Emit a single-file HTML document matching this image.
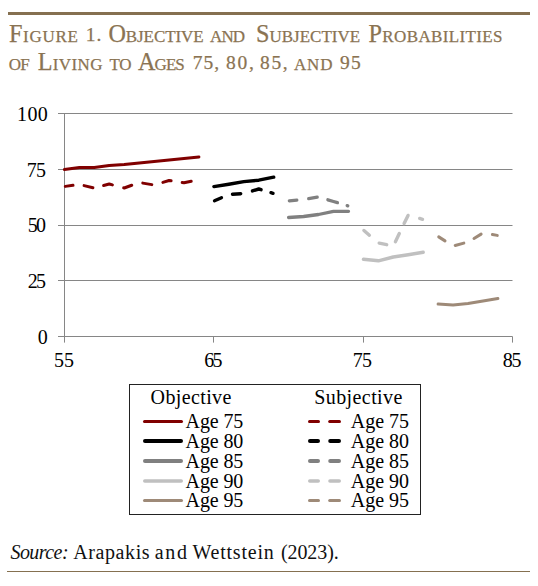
<!DOCTYPE html>
<html><head><meta charset="utf-8"><style>
html,body{margin:0;padding:0;background:#fff;}
body{width:538px;height:586px;position:relative;overflow:hidden;font-family:"Liberation Serif",serif;}
.rule{position:absolute;background:#857050;}
span{position:absolute;line-height:1;white-space:nowrap;}
svg{position:absolute;left:0;top:0;}
</style></head><body>
<div class="rule" style="left:8px;top:12px;width:522px;height:3px"></div>
<svg width="538" height="586" viewBox="0 0 538 586">
<line x1="58" y1="113.5" x2="512.5" y2="113.5" stroke="#868686" stroke-width="1"/>
<line x1="58" y1="169.5" x2="512.5" y2="169.5" stroke="#868686" stroke-width="1"/>
<line x1="58" y1="225.5" x2="512.5" y2="225.5" stroke="#868686" stroke-width="1"/>
<line x1="58" y1="280.5" x2="512.5" y2="280.5" stroke="#868686" stroke-width="1"/>
<line x1="58" y1="336.5" x2="512.5" y2="336.5" stroke="#868686" stroke-width="1"/>
<line x1="64.5" y1="113" x2="64.5" y2="337" stroke="#868686" stroke-width="1"/>
<line x1="64.5" y1="336.5" x2="64.5" y2="342.6" stroke="#868686" stroke-width="1"/>
<line x1="213.5" y1="336.5" x2="213.5" y2="342.6" stroke="#868686" stroke-width="1"/>
<line x1="363.5" y1="336.5" x2="363.5" y2="342.6" stroke="#868686" stroke-width="1"/>
<line x1="512.5" y1="336.5" x2="512.5" y2="342.6" stroke="#868686" stroke-width="1"/>
<polyline points="64.4,169.5 79.4,167.6 94.3,167.6 109.2,165.4 124.2,164.6 139.2,162.9 154.1,161.4 169.1,159.9 184.0,158.4 198.9,156.9" stroke="#800000" stroke-width="3" fill="none" stroke-linejoin="round" stroke-linecap="round"/>
<polyline points="65.29,186.38 73.01,185.35" stroke="#800000" stroke-width="3" fill="none" stroke-linejoin="round" stroke-linecap="round"/>
<polyline points="84.08,185.61 92.92,187.68" stroke="#800000" stroke-width="3" fill="none" stroke-linejoin="round" stroke-linecap="round"/>
<polyline points="103.58,185.52 109.25,184.00 112.42,184.85" stroke="#800000" stroke-width="3" fill="none" stroke-linejoin="round" stroke-linecap="round"/>
<polyline points="123.68,187.86 124.20,188.00 131.74,185.22" stroke="#800000" stroke-width="3" fill="none" stroke-linejoin="round" stroke-linecap="round"/>
<polyline points="142.79,183.11 151.81,184.62" stroke="#800000" stroke-width="3" fill="none" stroke-linejoin="round" stroke-linecap="round"/>
<polyline points="162.87,182.36 169.05,180.50 171.11,180.82" stroke="#800000" stroke-width="3" fill="none" stroke-linejoin="round" stroke-linecap="round"/>
<polyline points="182.19,182.52 184.00,182.80 191.22,181.21" stroke="#800000" stroke-width="3" fill="none" stroke-linejoin="round" stroke-linecap="round"/>
<polyline points="213.9,186.6 228.8,184.2 243.8,181.6 258.8,180.2 273.7,177.2" stroke="#000000" stroke-width="3.4" fill="none" stroke-linejoin="round" stroke-linecap="round"/>
<polyline points="214.54,200.72 221.46,197.71" stroke="#000000" stroke-width="3.4" fill="none" stroke-linejoin="round" stroke-linecap="round"/>
<polyline points="232.50,194.26 240.70,193.71" stroke="#000000" stroke-width="3.4" fill="none" stroke-linejoin="round" stroke-linecap="round"/>
<polyline points="252.47,190.89 258.75,189.00 261.03,189.69" stroke="#000000" stroke-width="3.4" fill="none" stroke-linejoin="round" stroke-linecap="round"/>
<polyline points="270.97,192.68 273.03,193.30" stroke="#000000" stroke-width="3.4" fill="none" stroke-linejoin="round" stroke-linecap="round"/>
<polyline points="288.6,217.5 303.6,216.5 318.5,214.5 333.5,211.3 348.5,211.3" stroke="#808080" stroke-width="3.3" fill="none" stroke-linejoin="round" stroke-linecap="round"/>
<polyline points="289.35,200.93 296.80,200.18" stroke="#808080" stroke-width="3.3" fill="none" stroke-linejoin="round" stroke-linecap="round"/>
<polyline points="308.69,198.65 317.21,197.22" stroke="#808080" stroke-width="3.3" fill="none" stroke-linejoin="round" stroke-linecap="round"/>
<polyline points="327.87,199.81 333.50,201.50 337.43,202.68" stroke="#808080" stroke-width="3.3" fill="none" stroke-linejoin="round" stroke-linecap="round"/>
<polyline points="347.17,205.61 347.78,205.80" stroke="#808080" stroke-width="3.3" fill="none" stroke-linejoin="round" stroke-linecap="round"/>
<polyline points="363.4,259.3 378.4,260.8 393.3,257.0 408.2,254.8 423.2,252.3" stroke="#c0c0c0" stroke-width="3.4" fill="none" stroke-linejoin="round" stroke-linecap="round"/>
<polyline points="363.93,230.46 369.37,235.19" stroke="#c0c0c0" stroke-width="3.4" fill="none" stroke-linejoin="round" stroke-linecap="round"/>
<polyline points="379.19,243.17 386.71,244.68" stroke="#c0c0c0" stroke-width="3.4" fill="none" stroke-linejoin="round" stroke-linecap="round"/>
<polyline points="395.40,241.64 399.30,233.57" stroke="#c0c0c0" stroke-width="3.4" fill="none" stroke-linejoin="round" stroke-linecap="round"/>
<polyline points="404.10,223.60 408.06,215.40" stroke="#c0c0c0" stroke-width="3.4" fill="none" stroke-linejoin="round" stroke-linecap="round"/>
<polyline points="419.67,218.44 422.53,219.30" stroke="#c0c0c0" stroke-width="3.4" fill="none" stroke-linejoin="round" stroke-linecap="round"/>
<polyline points="438.1,304.1 453.1,305.1 468.0,303.6 483.0,301.1 497.9,298.4" stroke="#9e8a78" stroke-width="3" fill="none" stroke-linejoin="round" stroke-linecap="round"/>
<polyline points="438.74,236.88 445.01,240.86" stroke="#9e8a78" stroke-width="3" fill="none" stroke-linejoin="round" stroke-linecap="round"/>
<polyline points="455.18,245.44 463.82,243.13" stroke="#9e8a78" stroke-width="3" fill="none" stroke-linejoin="round" stroke-linecap="round"/>
<polyline points="474.00,238.42 481.10,234.14" stroke="#9e8a78" stroke-width="3" fill="none" stroke-linejoin="round" stroke-linecap="round"/>
<polyline points="492.39,234.57 497.26,235.38" stroke="#9e8a78" stroke-width="3" fill="none" stroke-linejoin="round" stroke-linecap="round"/>
<rect x="129.5" y="384.5" width="291" height="130" fill="none" stroke="#222" stroke-width="1"/>
<line x1="144.50" y1="421.4" x2="181.50" y2="421.4" stroke="#800000" stroke-width="3" stroke-linecap="round"/>
<line x1="309.50" y1="421.4" x2="318.50" y2="421.4" stroke="#800000" stroke-width="3" stroke-linecap="round"/>
<line x1="329.70" y1="421.4" x2="339.50" y2="421.4" stroke="#800000" stroke-width="3" stroke-linecap="round"/>
<line x1="145.00" y1="441.1" x2="181.00" y2="441.1" stroke="#000000" stroke-width="4" stroke-linecap="round"/>
<line x1="310.00" y1="441.1" x2="318.00" y2="441.1" stroke="#000000" stroke-width="4" stroke-linecap="round"/>
<line x1="330.20" y1="441.1" x2="339.00" y2="441.1" stroke="#000000" stroke-width="4" stroke-linecap="round"/>
<line x1="145.00" y1="461.0" x2="181.00" y2="461.0" stroke="#808080" stroke-width="4" stroke-linecap="round"/>
<line x1="310.00" y1="461.0" x2="318.00" y2="461.0" stroke="#808080" stroke-width="4" stroke-linecap="round"/>
<line x1="330.20" y1="461.0" x2="339.00" y2="461.0" stroke="#808080" stroke-width="4" stroke-linecap="round"/>
<line x1="144.75" y1="480.9" x2="181.25" y2="480.9" stroke="#c0c0c0" stroke-width="3.5" stroke-linecap="round"/>
<line x1="309.75" y1="480.9" x2="318.25" y2="480.9" stroke="#c0c0c0" stroke-width="3.5" stroke-linecap="round"/>
<line x1="329.95" y1="480.9" x2="339.25" y2="480.9" stroke="#c0c0c0" stroke-width="3.5" stroke-linecap="round"/>
<line x1="144.50" y1="500.5" x2="181.50" y2="500.5" stroke="#9e8a78" stroke-width="3" stroke-linecap="round"/>
<line x1="309.50" y1="500.5" x2="318.50" y2="500.5" stroke="#9e8a78" stroke-width="3" stroke-linecap="round"/>
<line x1="329.70" y1="500.5" x2="339.50" y2="500.5" stroke="#9e8a78" stroke-width="3" stroke-linecap="round"/>
</svg>
<span id="w0" style="left:8.90px;top:21.60px;font-size:24px;letter-spacing:0.720px;color:#8a7352;font-variant:small-caps;-webkit-text-stroke:0.25px #8a7352;"><b style="font-weight:normal;line-height:0;font-size:24.2px">F</b>igure</span>
<span id="w1" style="left:85.70px;top:25.37px;font-size:19.5px;letter-spacing:1.000px;color:#8a7352;-webkit-text-stroke:0.25px #8a7352;">1.</span>
<span id="w2" style="left:108.40px;top:21.60px;font-size:24px;letter-spacing:-0.075px;color:#8a7352;font-variant:small-caps;-webkit-text-stroke:0.25px #8a7352;"><b style="font-weight:normal;line-height:0;font-size:24.2px">O</b>bjective</span>
<span id="w3" style="left:210.00px;top:21.60px;font-size:24px;letter-spacing:-0.900px;color:#8a7352;font-variant:small-caps;-webkit-text-stroke:0.25px #8a7352;">and</span>
<span id="w4" style="left:256.10px;top:21.60px;font-size:24px;letter-spacing:-0.022px;color:#8a7352;font-variant:small-caps;-webkit-text-stroke:0.25px #8a7352;"><b style="font-weight:normal;line-height:0;font-size:24.2px">S</b>ubjective</span>
<span id="w5" style="left:368.50px;top:21.60px;font-size:24px;letter-spacing:0.367px;color:#8a7352;font-variant:small-caps;-webkit-text-stroke:0.25px #8a7352;"><b style="font-weight:normal;line-height:0;font-size:24.2px">P</b>robabilities</span>
<span id="w6" style="left:8.70px;top:49.50px;font-size:24px;letter-spacing:-0.600px;color:#8a7352;font-variant:small-caps;-webkit-text-stroke:0.25px #8a7352;">of</span>
<span id="w7" style="left:37.70px;top:49.50px;font-size:24px;letter-spacing:0.360px;color:#8a7352;font-variant:small-caps;-webkit-text-stroke:0.25px #8a7352;"><b style="font-weight:normal;line-height:0;font-size:24.2px">L</b>iving</span>
<span id="w8" style="left:109.50px;top:49.50px;font-size:24px;letter-spacing:-0.400px;color:#8a7352;font-variant:small-caps;-webkit-text-stroke:0.25px #8a7352;">to</span>
<span id="w9" style="left:138.00px;top:49.50px;font-size:24px;letter-spacing:-0.933px;color:#8a7352;font-variant:small-caps;-webkit-text-stroke:0.25px #8a7352;"><b style="font-weight:normal;line-height:0;font-size:24.2px">A</b>ges</span>
<span id="w10" style="left:192.70px;top:53.27px;font-size:19.5px;letter-spacing:1.000px;color:#8a7352;-webkit-text-stroke:0.25px #8a7352;">75,</span>
<span id="w11" style="left:226.10px;top:53.27px;font-size:19.5px;letter-spacing:1.700px;color:#8a7352;-webkit-text-stroke:0.25px #8a7352;">80,</span>
<span id="w12" style="left:260.10px;top:53.27px;font-size:19.5px;letter-spacing:1.600px;color:#8a7352;-webkit-text-stroke:0.25px #8a7352;">85,</span>
<span id="w13" style="left:294.00px;top:49.50px;font-size:24px;letter-spacing:0.800px;color:#8a7352;font-variant:small-caps;-webkit-text-stroke:0.25px #8a7352;">and</span>
<span id="w14" style="left:340.00px;top:53.27px;font-size:19.5px;letter-spacing:1.200px;color:#8a7352;-webkit-text-stroke:0.25px #8a7352;">95</span>
<span id="w15" style="left:17.10px;top:104.45px;font-size:20px;letter-spacing:0.300px;color:#000;">100</span>
<span id="w16" style="left:26.70px;top:160.45px;font-size:20px;letter-spacing:-0.600px;color:#000;">75</span>
<span id="w17" style="left:27.70px;top:215.05px;font-size:20px;letter-spacing:-1.600px;color:#000;">50</span>
<span id="w18" style="left:27.70px;top:271.45px;font-size:20px;letter-spacing:-1.600px;color:#000;">25</span>
<span id="w19" style="left:37.70px;top:327.45px;font-size:20px;letter-spacing:-0.400px;color:#000;">0</span>
<span id="w20" style="left:54.00px;top:350.35px;font-size:20px;letter-spacing:0.000px;color:#000;">55</span>
<span id="w21" style="left:204.20px;top:350.35px;font-size:20px;letter-spacing:-1.800px;color:#000;">65</span>
<span id="w22" style="left:352.70px;top:350.35px;font-size:20px;letter-spacing:-0.800px;color:#000;">75</span>
<span id="w23" style="left:502.70px;top:350.35px;font-size:20px;letter-spacing:-1.200px;color:#000;">85</span>
<span id="w24" style="left:150.60px;top:386.95px;font-size:20px;letter-spacing:0.375px;color:#000;">Objective</span>
<span id="w25" style="left:314.30px;top:386.95px;font-size:20px;letter-spacing:0.400px;color:#000;">Subjective</span>
<span id="w26" style="left:185.60px;top:411.15px;font-size:20px;letter-spacing:-0.120px;color:#000;">Age 75</span>
<span id="w27" style="left:350.80px;top:411.15px;font-size:20px;letter-spacing:-0.040px;color:#000;">Age 75</span>
<span id="w28" style="left:185.60px;top:430.95px;font-size:20px;letter-spacing:-0.120px;color:#000;">Age 80</span>
<span id="w29" style="left:350.80px;top:430.95px;font-size:20px;letter-spacing:-0.040px;color:#000;">Age 80</span>
<span id="w30" style="left:185.60px;top:450.75px;font-size:20px;letter-spacing:-0.120px;color:#000;">Age 85</span>
<span id="w31" style="left:350.80px;top:450.75px;font-size:20px;letter-spacing:-0.040px;color:#000;">Age 85</span>
<span id="w32" style="left:185.60px;top:470.55px;font-size:20px;letter-spacing:-0.120px;color:#000;">Age 90</span>
<span id="w33" style="left:350.80px;top:470.55px;font-size:20px;letter-spacing:-0.040px;color:#000;">Age 90</span>
<span id="w34" style="left:185.60px;top:490.35px;font-size:20px;letter-spacing:-0.120px;color:#000;">Age 95</span>
<span id="w35" style="left:350.80px;top:490.35px;font-size:20px;letter-spacing:-0.040px;color:#000;">Age 95</span>
<span id="w36" style="left:10.50px;top:541.85px;font-size:20px;letter-spacing:-0.567px;color:#111;font-style:italic;">Source:</span>
<span id="w37" style="left:73.20px;top:541.85px;font-size:20px;letter-spacing:0.600px;color:#111;">Arapakis</span>
<span id="w38" style="left:154.80px;top:541.85px;font-size:20px;letter-spacing:1.700px;color:#111;">and</span>
<span id="w39" style="left:192.40px;top:541.85px;font-size:20px;letter-spacing:0.800px;color:#111;">Wettstein</span>
<span id="w40" style="left:281.00px;top:541.85px;font-size:20px;letter-spacing:-0.100px;color:#111;">(2023).</span>
<div class="rule" style="left:7px;top:571px;width:523px;height:1px"></div>
</body></html>
